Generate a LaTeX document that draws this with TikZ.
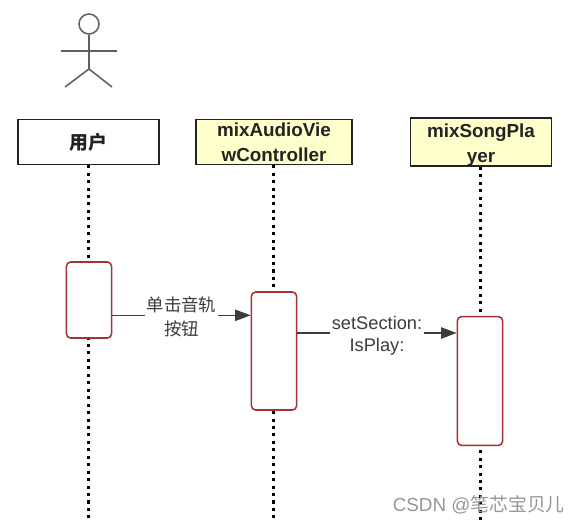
\documentclass[tikz,border=0pt]{standalone}
\usepackage{fontspec}
\setmainfont{Liberation Sans}
\newfontfamily\cjk{Noto Sans CJK SC}
\usetikzlibrary{arrows.meta,positioning}
\definecolor{ActorGray}{RGB}{95,95,95}
\definecolor{BoxInk}{RGB}{35,35,35}
\definecolor{LabelInk}{RGB}{60,60,60}
\definecolor{NoteYellow}{RGB}{255,255,204}
\definecolor{ActiveRed}{RGB}{165,50,50}
\definecolor{MarkGray}{RGB}{150,150,150}
\tikzset{
  headbox/.style={draw=BoxInk,line width=1.1pt,fill=white,minimum width=35.2mm,minimum height=11.2mm,inner sep=0pt,align=center,text=BoxInk,font=\fontsize{13.4}{17.7}\selectfont\bfseries},
  activebox/.style={draw=ActiveRed,line width=1.1pt,fill=white,rounded corners=3pt,minimum width=11.3mm,inner sep=0pt},
  lifeline/.style={black,line width=2.15pt,dash pattern=on 2.15pt off 3.15pt},
  message/.style={draw=LabelInk,line width=1pt,-{Triangle[length=11pt,width=8pt]}},
  msglabel/.style={midway,fill=white,inner sep=1pt,align=center,text=LabelInk,font=\fontsize{13}{16}\selectfont},
  cjklabel/.style={msglabel,font=\fontsize{12.4}{17.5}\selectfont\cjk},
  actorline/.style={draw=ActorGray,line width=1.1pt}
}
\begin{document}
\begin{tikzpicture}[x=0.25mm,y=-0.25mm]
  \useasboundingbox (0,0) rectangle (580,524);
  \node[actorline,circle,minimum size=5mm,inner sep=0pt] (head) at (89,24) {};
  \coordinate (hip) at (89,69);
  \draw[actorline] (head.south) -- (hip);
  \draw[actorline] (61,51) -- (117,51);
  \draw[actorline] (65,87) -- (hip) -- (112,87);
  \node[headbox] (user) at (88.5,142) {\raisebox{1.4pt}{\cjk\bfseries 用户}};
  \node[headbox,fill=NoteYellow,minimum width=39mm] (view) at (274,142) {mixAudioVie\\wController};
  \node[headbox,fill=NoteYellow] (player) at (481,142) {\rule{0pt}{14pt}mixSongPla\\yer};
  \coordinate (userend) at (88.3,520);
  \coordinate (viewend) at (273.3,520);
  \coordinate (playerend) at (480.3,520);
  \draw[lifeline] (user.south -| userend) -- (userend);
  \draw[lifeline] (view.south -| viewend) -- (viewend);
  \draw[lifeline] (player.south -| playerend) -- (playerend);
  \node[activebox,minimum height=19mm] (actuser) at (89,300) {};
  \node[activebox,minimum height=29.5mm] (actview) at (274,351) {};
  \node[activebox,minimum height=32.2mm] (actplayer) at (480,381) {};
  \coordinate (tap) at (0,315.3);
  \coordinate (section) at (0,333);
  \draw[message] (actuser.east |- tap) -- (actview.west |- tap)
    node[cjklabel,yshift=-1pt] {单击音轨\\按钮};
  \draw[message] (actview.east |- section) -- (actplayer.west |- section)
    node[msglabel,yshift=-2pt] {setSection:\\IsPlay:};
  \node[MarkGray,anchor=east,inner sep=0pt,font=\fontsize{13.4}{15}\selectfont] (mark) at (565,505) {CSDN @{\cjk 笔芯宝贝儿}};
\end{tikzpicture}
\end{document}
